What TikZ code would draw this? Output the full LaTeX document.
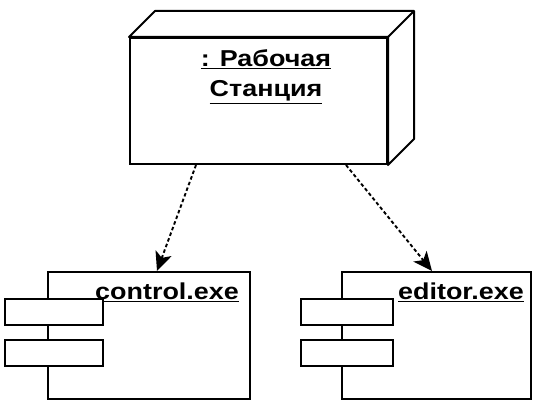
\documentclass[tikz,border=0pt]{standalone}
\usepackage{fontspec}
\setmainfont[FakeStretch=1.17]{Liberation Sans}
\usetikzlibrary{%
    arrows.meta,
    calc,
    positioning
}
\tikzset{%
    umlbox/.style = {draw, line width=2pt, fill=white, inner sep=0pt},
    umltext/.style = {font=\bfseries\fontsize{23}{30}\selectfont, inner sep=0pt, anchor=base},
    deparrow/.style = {line width=1.9pt, dash pattern=on 3.5pt off 2.5pt,
        -{Stealth[length=19pt,width=17pt,inset=5pt]}}
}

\begin{document}
\begin{tikzpicture}[x=1pt,y=1pt]
    \useasboundingbox (0,0) rectangle (557,419);

    % node with depth
    \node[umlbox,minimum width=257pt,minimum height=126pt] (station) at (258.5,318) {};
    \draw[line width=2pt,line join=round,fill=white]
        (station.north west) -- ++(26,26) -| ($(station.south east)+(26,26)$)
        -- (station.south east) -- (station.north east) -- cycle;
    \draw[line width=2pt] (station.north east) -- ++(26,26);
    \node[umltext] (title1) at (266,352) {\underline{: Рабочая}};
    \node[umltext] (title2) at (266,322) {\underline{Станция}};

    % components
    \foreach \name/\label/\cx/\w/\pw/\tx in {%
        control/control.exe/149/202/98/239,
        editor/editor.exe/436.5/189/92/524%
        }
        {
        \node[umlbox,minimum width=\w pt,minimum height=127pt] (\name) at (\cx,83.5) {};
        \node[umltext,anchor=base east] (\name-label) at (\tx,119) {\underline{\label}};
        \node[umlbox,minimum width=\pw pt,minimum height=26pt,anchor=east]
            (\name-port1) at ([xshift={\pw pt*0.58},yshift=-41pt]\name.west |- \name.north) {};
        \node[umlbox,minimum width=\pw pt,minimum height=26pt,anchor=west]
            (\name-port2) at ([yshift=-41pt]\name-port1.west) {};
        }

    \draw[deparrow] ([xshift=67pt]station.south west) -- ([xshift=110pt]control.north west);
    \draw[deparrow] ([xshift=217pt]station.south west) -- ([xshift=91pt]editor.north west);
\end{tikzpicture}
\end{document}
